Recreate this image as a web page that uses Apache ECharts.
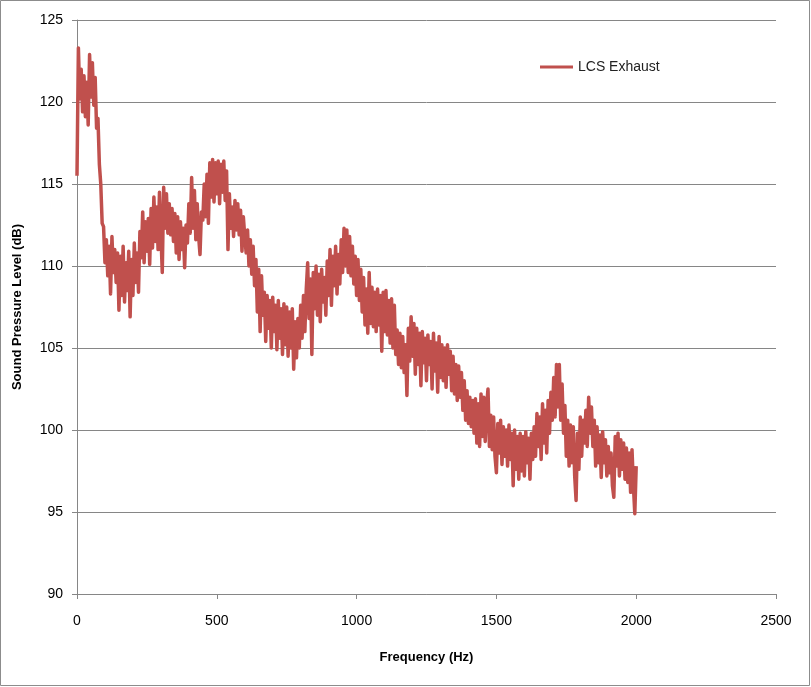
<!DOCTYPE html>
<html>
<head>
<meta charset="utf-8">
<script src="https://cdn.jsdelivr.net/npm/echarts@6/dist/echarts.min.js"></script>
<style>
html,body{margin:0;padding:0;background:#fff;}
#chart{width:811px;height:687px;}
</style>
</head>
<body>
<div id="chart"></div>
<script>
// Sampling grid of the spectrum (Hz)
const freqStart = 0;
const freqStep = 5;
// Sound pressure level (dB), one value per 5 Hz from 0 to 2000 Hz
const splValues = [
 115.5,123.3,120.2,122.0,119.4,121.6,119.1,121.2,118.6,122.9,
 120.3,122.4,119.8,121.5,118.4,119.0,116.2,115.0,112.6,112.4,
 110.2,111.6,109.4,111.2,108.3,111.8,109.6,111.0,109.0,110.8,
 107.3,110.6,108.2,111.2,107.8,110.2,108.5,110.9,106.9,110.4,
 108.2,111.4,109.0,110.8,108.4,112.1,110.5,113.3,110.2,112.7,
 110.9,112.9,110.1,113.5,111.1,114.2,111.5,113.6,111.0,114.5,
 112.0,109.6,114.8,112.3,114.4,112.0,113.8,111.9,113.5,111.5,
 113.2,110.8,113.0,110.4,112.7,111.0,112.3,109.9,112.5,111.4,
 113.8,112.0,115.4,112.3,114.6,111.6,113.8,111.8,110.7,113.3,
 112.8,115.0,113.0,115.6,112.6,116.3,114.2,116.5,113.9,116.3,
 114.4,116.4,113.8,116.2,114.5,116.4,114.0,115.8,111.0,114.4,
 112.3,113.6,111.8,114.0,112.2,113.8,111.9,113.4,110.9,113.0,
 111.8,110.8,112.2,110.0,111.6,109.5,111.2,108.8,110.4,107.2,
 109.8,106.0,109.4,107.0,108.4,105.4,108.2,106.2,107.9,105.0,
 108.1,106.0,107.6,104.9,107.9,105.6,107.4,104.6,107.7,105.2,
 107.5,104.5,107.2,105.0,107.4,103.7,106.6,104.4,106.8,105.0,
 107.6,105.6,108.2,106.0,108.6,110.2,106.8,109.2,104.6,109.6,
 107.4,110.0,107.0,109.5,106.6,109.8,107.8,109.3,107.0,110.3,
 108.2,111.0,107.6,110.6,108.8,111.2,108.3,110.7,108.9,111.6,
 109.6,112.3,110.0,112.2,109.6,111.8,109.4,111.2,108.9,110.6,
 108.2,110.4,107.9,109.8,107.2,109.3,106.4,108.6,105.9,109.6,
 106.5,108.7,106.3,108.4,106.0,108.6,106.4,108.2,104.8,108.4,
 106.0,108.5,105.8,107.9,105.3,108.0,105.0,107.6,104.6,106.1,
 104.0,105.9,103.8,105.7,103.5,105.2,102.1,106.2,104.2,106.9,
 104.5,106.5,103.4,106.2,104.0,105.9,102.7,106.0,104.1,105.6,
 103.0,105.8,104.0,105.4,102.5,105.9,103.6,105.3,102.3,105.7,
 103.2,105.2,103.0,105.0,102.6,105.2,103.4,104.8,102.4,104.5,
 102.2,104.0,101.8,103.9,102.0,103.5,101.2,103.0,100.6,102.4,
 100.4,102.0,100.2,101.8,99.8,101.9,99.2,101.6,99.0,102.2,
 99.6,102.0,99.3,101.5,102.5,99.0,100.9,98.8,100.8,98.4,
 97.4,100.4,98.6,100.6,97.9,100.2,98.4,100.0,97.8,100.3,
 98.2,99.8,96.6,100.0,97.6,99.6,97.0,99.8,97.5,99.6,
 97.2,99.9,98.0,99.5,97.0,99.8,98.2,100.2,98.4,101.0,
 99.0,100.8,98.2,101.6,99.2,101.2,98.6,101.8,99.8,102.3,
 100.6,103.2,100.8,104.0,101.4,104.0,100.6,102.8,99.8,101.5,
 98.4,100.6,97.8,100.3,98.0,100.2,97.2,95.7,99.8,97.6,
 100.8,98.4,100.6,99.2,101.2,99.0,102.0,99.8,101.4,99.0,
 100.6,97.8,100.2,98.0,99.7,97.1,99.9,98.0,99.4,97.2,
 99.0,97.4,98.6,96.6,95.9,99.6,97.8,99.8,97.2,99.4,
 97.6,99.2,97.0,98.9,96.8,98.6,96.2,98.8,96.6,94.9,
 97.8
];
const seriesName = 'LCS Exhaust';
const xTitle = 'Frequency (Hz)';
const yTitle = 'Sound Pressure Level (dB)';
const xMin = 0, xMax = 2500, xStep = 500;
const yMin = 90, yMax = 125, yStep = 5;

const points = splValues.map((v, i) => [freqStart + i * freqStep, v]);

const font = '"Liberation Sans", Arial, sans-serif';
const chart = echarts.init(document.getElementById('chart'), null, {renderer: 'canvas'});
chart.setOption({
  animation: false,
  backgroundColor: '#ffffff',
  graphic: [{
    type: 'rect',
    shape: {x: 0.5, y: 0.5, width: 809, height: 685},
    style: {fill: 'none', stroke: '#8c8c8c', lineWidth: 1},
    silent: true
  }],
  grid: {left: 77, right: 35, top: 20, bottom: 93, containLabel: false, outerBoundsMode: 'none'},
  legend: {
    data: [seriesName],
    left: 535, top: 55,
    icon: 'rect',
    itemWidth: 33, itemHeight: 3,
    textStyle: {fontFamily: font, fontSize: 14, color: '#222'}
  },
  xAxis: {
    type: 'value', min: xMin, max: xMax, interval: xStep,
    name: xTitle, nameLocation: 'middle', nameGap: 57,
    nameTextStyle: {fontFamily: font, fontSize: 13, fontWeight: 'bold', color: '#000'},
    axisLine: {show: true, lineStyle: {color: '#868686', width: 1}},
    axisTick: {show: true, inside: false, length: 5, lineStyle: {color: '#868686'}},
    axisLabel: {fontFamily: font, fontSize: 14, color: '#000', margin: 20,
      formatter: v => String(v)},
    splitLine: {show: false}
  },
  yAxis: {
    type: 'value', min: yMin, max: yMax, interval: yStep,
    name: yTitle, nameLocation: 'middle', nameGap: 53, nameRotate: 90,
    nameTextStyle: {fontFamily: font, fontSize: 13, fontWeight: 'bold', color: '#000'},
    axisLine: {show: true, lineStyle: {color: '#868686', width: 1}},
    axisTick: {show: true, inside: false, length: 5, lineStyle: {color: '#868686'}},
    axisLabel: {fontFamily: font, fontSize: 14, color: '#000', margin: 14,
      formatter: v => String(v)},
    splitLine: {show: true, lineStyle: {color: '#868686', width: 1}}
  },
  series: [{
    name: seriesName,
    type: 'line',
    data: points,
    showSymbol: false,
    symbol: 'none',
    sampling: null,
    lineStyle: {color: '#C0504D', width: 3.5, join: 'round'},
    itemStyle: {color: '#C0504D'}
  }]
});
</script>
</body>
</html>
